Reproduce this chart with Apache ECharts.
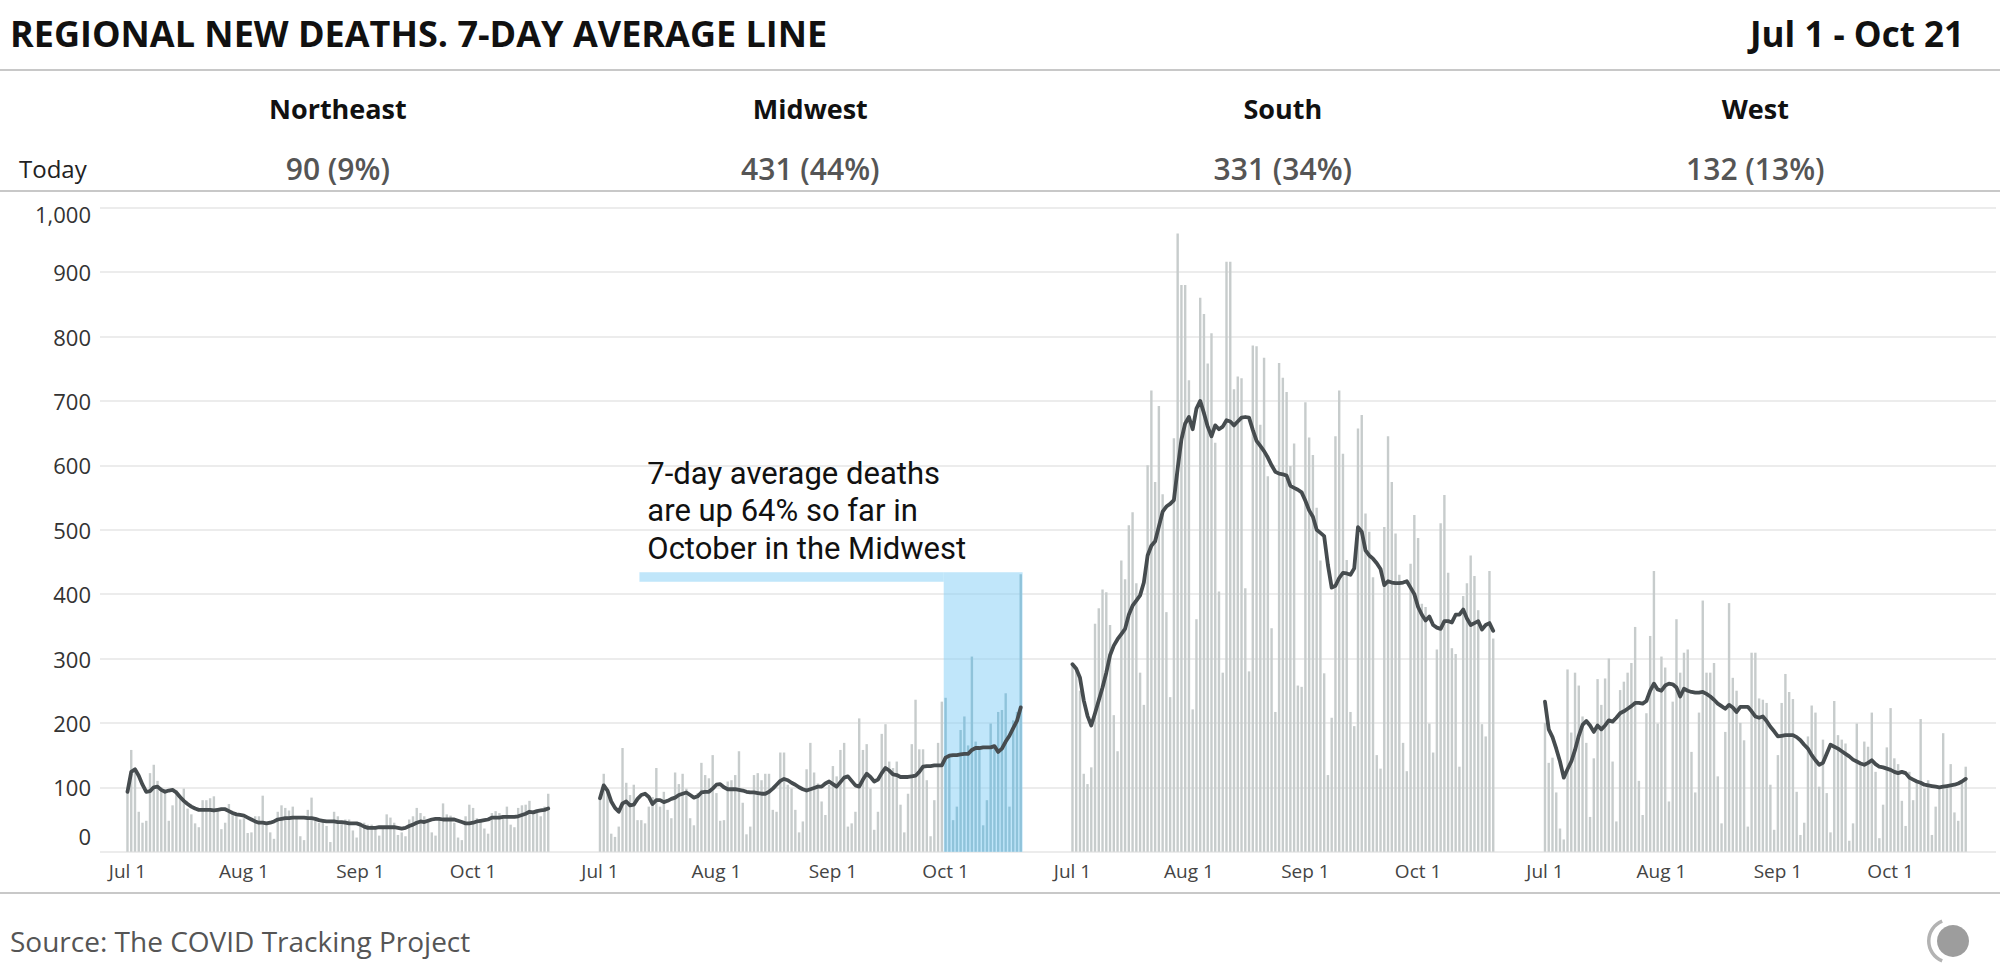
<!DOCTYPE html>
<html>
<head>
<meta charset="utf-8">
<script src="https://cdn.jsdelivr.net/npm/echarts@6/dist/echarts.min.js"></script>
<style>
html,body{margin:0;padding:0;background:#fff;}
#chart{width:2000px;height:976px;}
</style>
</head>
<body>
<div id="chart"></div>
<script>
// ---------------- DATA ----------------
const monthSpans = [['Jul', 31], ['Aug', 31], ['Sep', 30], ['Oct', 21]];
const dates = [];
monthSpans.forEach(([m, n]) => { for (let d = 1; d <= n; d++) dates.push(m + ' ' + d); });

const regions = ['Northeast', 'Midwest', 'South', 'West'];
const todayValues = [90, 431, 331, 132];
const todayShares = [9, 44, 34, 13];
const xTickLabels = ['Jul 1', 'Aug 1', 'Sep 1', 'Oct 1'];
const yTicks = [0, 100, 200, 300, 400, 500, 600, 700, 800, 900, 1000];

const northeastDaily = [
  96,158,125,62,45,48,122, 135,110,100,97,48,72,96, 88,98,67,58,44,38,80,
  80,83,86,64,35,45,74, 60,55,50,52,29,30,55, 55,87,42,30,20,62,72,
  68,64,70,55,24,18,65, 84,50,45,50,40,15,62, 55,45,50,50,33,22,45,
  45,42,42,35,25,37,58, 53,45,26,30,24,50,55, 68,60,55,50,30,25,50,
  75,58,56,45,22,18,55, 73,68,52,50,36,28,60, 63,60,52,70,42,38,68,
  72,73,79,60,62,55,70, 90
];
const northeastAvg = [
  93,124,128,118,104,93,94, 100,101,96,93,95,96,92, 85,79,74,70,67,65,65,
  65,65,64,65,66,66,63, 60,58,57,56,53,50,47, 45,45,44,45,47,50,51,
  52,52,53,53,53,53,52, 52,51,49,48,47,47,47, 46,46,45,44,44,44,42,
  39,37,37,37,38,38,38, 38,38,37,36,37,40,42, 45,47,46,48,50,51,51,
  50,50,50,50,48,46,44, 44,45,47,48,49,50,53, 53,53,54,54,54,54,55,
  57,59,62,61,63,64,65, 67
];
const midwestDaily = [
  85,121,96,28,23,39,161, 107,88,104,49,49,44,70, 85,130,70,93,65,52,123,
  105,121,98,52,41,91,138, 119,114,150,91,48,49,109, 111,119,156,76,27,39,119,
  122,111,121,121,65,62,154, 154,104,98,65,30,47,128, 169,123,106,78,57,104,133,
  117,158,169,39,44,62,207, 158,167,98,34,62,183,198, 140,130,140,73,30,90,167,
  236,159,159,111,24,80,169, 233,239,150,49,70,189,210, 165,303,171,160,41,80,199,
  163,217,220,246,70,204,217, 431
];
const midwestAvg = [
  83,103,95,78,68,62,75, 78,72,73,82,88,90,85, 74,80,80,77,79,82,84,
  88,90,92,88,84,86,92, 93,93,98,104,105,100,97, 97,97,96,95,93,92,92,
  91,90,90,93,98,104,110, 113,111,107,104,100,97,95, 97,99,101,101,106,109,105,
  101,108,115,117,110,103,101, 112,121,116,109,112,122,130, 126,120,119,116,116,116,117,
  118,124,132,133,133,134,134, 134,146,149,150,150,151,152, 152,158,161,161,162,162,162,
  164,155,160,171,180,192,203, 224
];
const southDaily = [
  291,285,250,121,105,131,354, 378,407,403,352,212,156,452, 423,507,527,417,278,228,600,
  716,574,692,555,372,240,642, 960,880,880,732,221,361,860, 835,758,805,635,404,278,916,
  916,718,738,735,409,280,786, 785,663,767,583,347,217,759, 736,714,599,634,258,256,698,
  643,616,534,452,277,119,208, 645,716,618,453,217,195,657, 678,525,497,426,150,129,504,
  645,574,494,430,169,125,447, 523,487,385,380,199,154,314, 510,554,433,316,307,132,397,
  417,460,428,375,198,179,436, 331
];
const southAvg = [
  291,284,270,235,211,196,215, 235,255,278,305,320,330,338, 346,368,382,390,398,418,460,
  475,482,505,528,536,540,546, 595,640,665,675,656,688,700, 681,660,645,662,656,660,670,
  668,662,668,674,675,674,655, 638,630,622,612,600,590,587, 586,584,568,565,562,558,545,
  530,520,500,495,490,445,410, 413,425,433,432,430,440,504, 497,468,460,455,448,439,414,
  420,418,417,417,418,420,410, 400,380,368,359,365,352,348, 346,358,358,356,368,368,376,
  362,352,355,358,345,352,355, 343
];
const westDaily = [
  200,138,146,92,36,19,283, 185,278,258,210,169,54,145, 268,228,269,300,140,47,251,
  264,278,293,349,110,57,215, 335,436,199,303,286,78,233, 361,278,309,314,155,92,216,
  390,278,278,293,117,44,186, 386,270,250,200,173,39,309, 309,238,236,231,104,34,150,
  231,276,248,237,93,26,45, 179,227,216,101,174,91,30, 234,181,174,168,17,44,199,
  136,171,163,216,124,21,73, 162,223,145,136,79,40,124, 80,107,206,98,111,26,70,
  101,184,102,136,61,48,108, 132
];
const westAvg = [
  233,190,178,160,140,115,128, 140,158,180,197,203,196,186, 196,190,196,204,202,208,215,
  218,222,226,231,231,230,234, 250,261,252,250,258,261,260, 255,241,253,250,248,247,247,
  248,245,241,236,230,226,222, 228,224,217,225,225,225,218, 210,208,210,203,194,187,179,
  180,181,181,181,178,173,166, 160,150,142,135,138,152,166, 163,160,156,152,148,143,140,
  137,135,138,142,136,132,131, 129,127,124,122,124,122,115, 112,109,107,104,103,102,101,
  100,101,102,103,104,106,109, 113
];

// Midwest October annotation
const highlightRegion = 1;
const highlightFrom = 'Oct 1', highlightTo = 'Oct 21', highlightTop = 434;
const bracketFrom = 'Jul 12', bracketTo = 'Sep 30', bracketBottom = 419;
const annotationLines = ['7-day average deaths', 'are up 64% so far in', 'October in the Midwest'];

const dailySeries = [northeastDaily, midwestDaily, southDaily, westDaily];
const avgSeries = [northeastAvg, midwestAvg, southAvg, westAvg];

// ---------------- LAYOUT ----------------
const W = 2000;
const PLOT_TOP = 207.7, PLOT_H = 644;
const PANEL_LEFT0 = 125.6, PANEL_STEP = 472.5, PANEL_W = 424.5;
const BAR_GRAY = '#c7cccc', BAR_BLUE = '#8fc3da', LINE_COLOR = '#464c4f';
const FONT = '"Open Sans", "Noto Sans", sans-serif';

const chart = echarts.init(document.getElementById('chart'), null, { renderer: 'svg', width: 2000, height: 976 });

const grids = [{ left: 100, width: 1896, top: PLOT_TOP, height: PLOT_H }];
const xAxes = [{ gridIndex: 0, type: 'value', min: 0, max: 1, show: false }];
const yAxes = [{
  gridIndex: 0, type: 'value', min: 0, max: 1000, interval: 100,
  axisLine: { show: false }, axisTick: { show: false },
  splitLine: { lineStyle: { color: '#e6e6e6', width: 1.5 } },
  axisLabel: {
    margin: 9, color: '#333', fontSize: 22, fontFamily: FONT,
    formatter: v => {
      const s = v >= 1000 ? (v / 1000) + ',' + String(v % 1000).padStart(3, '0') : String(v);
      if (v === yTicks[0]) return '{z|' + s + '}';
      if (v === yTicks[yTicks.length - 1]) return '{t|' + s + '}';
      return s;
    },
    rich: {
      z: { padding: [0, 0, 32, 0], fontSize: 22, color: '#333', fontFamily: FONT },
      t: { padding: [13, 0, 0, 0], fontSize: 22, color: '#333', fontFamily: FONT }
    }
  }
}];
const series = [];

regions.forEach((r, i) => {
  grids.push({ left: PANEL_LEFT0 + i * PANEL_STEP, width: PANEL_W, top: PLOT_TOP, height: PLOT_H });
  xAxes.push({
    gridIndex: i + 1, type: 'category', data: dates, boundaryGap: true,
    axisLine: { show: false }, axisTick: { show: false }, splitLine: { show: false },
    axisLabel: {
      interval: (idx, val) => xTickLabels.indexOf(val) >= 0,
      color: '#444', fontSize: 19, fontFamily: FONT, margin: 10
    }
  });
  yAxes.push({ gridIndex: i + 1, type: 'value', min: 0, max: 1000, show: false, splitLine: { show: false } });
  series.push({
    type: 'bar', name: r + ' daily', xAxisIndex: i + 1, yAxisIndex: i + 1,
    data: dailySeries[i], barWidth: '64%', silent: true, z: 2,
    itemStyle: {
      color: i === highlightRegion
        ? (p => p.dataIndex >= dates.indexOf(highlightFrom) ? BAR_BLUE : BAR_GRAY)
        : BAR_GRAY
    }
  });
  series.push({
    type: 'line', name: r + ' 7-day average', xAxisIndex: i + 1, yAxisIndex: i + 1,
    data: avgSeries[i], symbol: 'none', silent: true, z: 4,
    lineStyle: { color: LINE_COLOR, width: 3.8, join: 'round', cap: 'round' }
  });
});

chart.setOption({
  backgroundColor: '#fff',
  animation: false,
  grid: grids, xAxis: xAxes, yAxis: yAxes, series: series
});

// ---------------- GRAPHICS (texts, rules, annotation) ----------------
const g = [];
const rule = (id, y) => g.push({ id, type: 'rect', shape: { x: 0, y: y - 1, width: W, height: 2 }, style: { fill: '#c8c8c8' }, silent: true, z: 10 });
rule('r1', 70); rule('r2', 191); rule('r3', 893);

g.push({ id: 'title', type: 'text', x: 10, y: 33, z: 10, style: { text: 'REGIONAL NEW DEATHS. 7-DAY AVERAGE LINE', fill: '#111', font: 'bold 36px ' + FONT, verticalAlign: 'middle', align: 'left' } });
g.push({ id: 'range', type: 'text', x: 1964, y: 33, z: 10, style: { text: 'Jul 1 - Oct 21', fill: '#111', font: 'bold 35px ' + FONT, verticalAlign: 'middle', align: 'right' } });
g.push({ id: 'today', type: 'text', x: 19, y: 168, z: 10, style: { text: 'Today', fill: '#222', font: '24px ' + FONT, verticalAlign: 'middle', align: 'left' } });
regions.forEach((r, i) => {
  const cx = PANEL_LEFT0 + i * PANEL_STEP + PANEL_W / 2;
  g.push({ id: 'rn' + i, type: 'text', x: cx, y: 108, z: 10, style: { text: r, fill: '#111', font: 'bold 27px ' + FONT, verticalAlign: 'middle', align: 'center' } });
  g.push({ id: 'rv' + i, type: 'text', x: cx, y: 168, z: 10, style: { text: todayValues[i] + ' (' + todayShares[i] + '%)', fill: '#555', font: '600 30px ' + FONT, verticalAlign: 'middle', align: 'center' } });
});
g.push({ id: 'src', type: 'text', x: 10, y: 941, z: 10, style: { text: 'Source: The COVID Tracking Project', fill: '#555', font: '28px ' + FONT, verticalAlign: 'middle', align: 'left' } });
// logo
g.push({ id: 'logo1', type: 'circle', shape: { cx: 1953, cy: 941, r: 16 }, style: { fill: '#9d9d9d' }, z: 10 });
g.push({ id: 'logo2', type: 'sector', shape: { cx: 1950, cy: 941, r: 23, r0: 19.5, startAngle: Math.PI * 0.62, endAngle: Math.PI * 1.38, clockwise: true }, style: { fill: '#b3b3b3' }, z: 10 });

// annotation overlay computed through the Midwest axes
const ci = { xAxisIndex: highlightRegion + 1, yAxisIndex: highlightRegion + 1 };
const pA = chart.convertToPixel(ci, [highlightFrom, highlightTop]);
const pB = chart.convertToPixel(ci, [highlightTo, 0]);
const pNext = chart.convertToPixel(ci, [dates[dates.indexOf(highlightFrom) + 1], 0]);
const band = pNext[0] - pA[0];
const pC = chart.convertToPixel(ci, [bracketFrom, highlightTop]);
const pD = chart.convertToPixel(ci, [bracketTo, bracketBottom]);
const OVER = 'rgba(140,210,245,0.55)';
g.push({ id: 'ovBox', type: 'rect', z: 1, silent: true, shape: { x: pA[0] - band / 2, y: pA[1], width: pB[0] - pA[0] + band, height: pB[1] - pA[1] }, style: { fill: OVER } });
g.push({ id: 'ovBracket', type: 'rect', z: 1, silent: true, shape: { x: pC[0] - band / 2, y: pC[1], width: pD[0] - pC[0] + band, height: pD[1] - pC[1] }, style: { fill: OVER } });
annotationLines.forEach((t, k) => {
  g.push({ id: 'ann' + k, type: 'text', x: pC[0] + 6, y: 473 + k * 37.5, z: 10, style: { text: t, fill: '#111', font: '31px Roboto, ' + FONT, verticalAlign: 'middle', align: 'left' } });
});

chart.setOption({ graphic: { elements: g } });
</script>
</body>
</html>
